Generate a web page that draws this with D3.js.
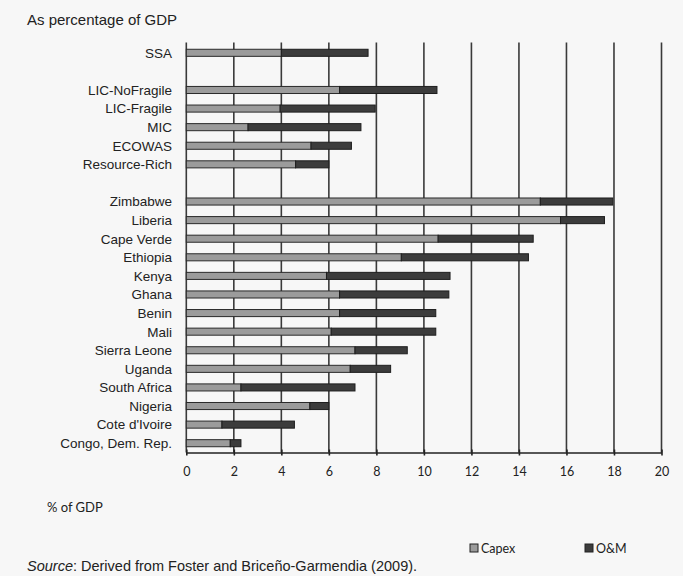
<!DOCTYPE html>
<html>
<head>
<meta charset="utf-8">
<script src="https://cdn.jsdelivr.net/npm/d3@7"></script>
<style>
  html, body { margin: 0; padding: 0; background: #f7f7f7; }
  svg { display: block; }
</style>
</head>
<body>
<script>
// ---- data ----
const categories = ["SSA", "", "LIC-NoFragile", "LIC-Fragile", "MIC", "ECOWAS", "Resource-Rich", "",
  "Zimbabwe", "Liberia", "Cape Verde", "Ethiopia", "Kenya", "Ghana", "Benin", "Mali",
  "Sierra Leone", "Uganda", "South Africa", "Nigeria", "Cote d'Ivoire", "Congo, Dem. Rep."];
const capex = [4.0, null, 6.45, 3.95, 2.6, 5.25, 4.6, null,
  14.9, 15.75, 10.6, 9.05, 5.9, 6.45, 6.45, 6.1, 7.1, 6.9, 2.3, 5.2, 1.5, 1.85];
const om = [3.65, null, 4.1, 4.0, 4.75, 1.7, 1.4, null,
  3.05, 1.85, 4.0, 5.35, 5.2, 4.6, 4.05, 4.4, 2.2, 1.7, 4.8, 0.8, 3.05, 0.45];
const xTicks = [0, 2, 4, 6, 8, 10, 12, 14, 16, 18, 20];
const seriesNames = ["Capex", "O&M"];
const seriesColors = ["#9b9b9b", "#3c3c3c"];
const titleText = "As percentage of GDP";
const axisTitle = "% of GDP";

// ---- layout ----
const W = 683, H = 576;
const svg = d3.select("body").append("svg").attr("width", W).attr("height", H);
svg.append("rect").attr("width", W).attr("height", H).attr("fill", "#f7f7f7");

const x = d3.scaleLinear().domain([0, 20]).range([186.3, 661.5]);
const y = d3.scaleBand().domain(d3.range(categories.length)).range([43.5, 452.5])
  .paddingInner(0.62).paddingOuter(0.31);

const sans = "'Liberation Sans', Arial, sans-serif";
const lato = "Lato, 'Open Sans', sans-serif";

// gridlines
svg.append("g").selectAll("line").data(xTicks).join("line")
  .attr("x1", d => x(d)).attr("x2", d => x(d))
  .attr("y1", 42.5).attr("y2", 452.5)
  .attr("stroke", "#3a3a3a").attr("stroke-width", 1.6);

// bars
const rows = categories.map((c, i) => ({ i, c, capex: capex[i], om: om[i] })).filter(d => d.capex != null);
const g = svg.append("g");
g.selectAll("rect.capex").data(rows).join("rect").attr("class", "capex")
  .attr("x", d => x(0)).attr("y", d => y(d.i))
  .attr("width", d => x(d.capex) - x(0)).attr("height", y.bandwidth())
  .attr("fill", seriesColors[0]).attr("stroke", "#2a2a2a").attr("stroke-width", 1);
g.selectAll("rect.om").data(rows).join("rect").attr("class", "om")
  .attr("x", d => x(d.capex)).attr("y", d => y(d.i))
  .attr("width", d => x(d.capex + d.om) - x(d.capex)).attr("height", y.bandwidth())
  .attr("fill", seriesColors[1]).attr("stroke", "#1e1e1e").attr("stroke-width", 1);

// x axis
const xAxis = d3.axisBottom(x).tickValues(xTicks).tickSize(3).tickSizeOuter(0).tickPadding(12);
const ax = svg.append("g").attr("transform", "translate(0,452.5)").call(xAxis);
ax.select(".domain").attr("stroke", "#222").attr("stroke-width", 1.6);
ax.selectAll(".tick line").attr("stroke", "#222").attr("stroke-width", 1.6).attr("y1", -3);
ax.selectAll(".tick text").attr("font-family", lato).attr("font-size", 12.5).attr("fill", "#222");

// y labels
svg.append("g").selectAll("text").data(rows).join("text")
  .attr("x", 172).attr("y", d => y(d.i) + y.bandwidth() / 2)
  .attr("dy", "0.36em").attr("text-anchor", "end")
  .attr("font-family", sans).attr("font-size", 13.5).attr("fill", "#222")
  .text(d => d.c);

// title
svg.append("text").attr("x", 27).attr("y", 25).attr("font-family", sans)
  .attr("font-size", 15).attr("fill", "#222").text(titleText);

// axis title
svg.append("text").attr("x", 47).attr("y", 512).attr("font-family", lato)
  .attr("font-size", 13).attr("fill", "#222").text(axisTitle);

// legend
const legX = [470, 585];
const leg = svg.append("g").selectAll("g").data(seriesNames).join("g")
  .attr("transform", (d, i) => `translate(${legX[i]},544)`);
leg.append("rect").attr("width", 8).attr("height", 8)
  .attr("fill", (d, i) => seriesColors[i]).attr("stroke", "#222").attr("stroke-width", 1);
leg.append("text").attr("x", 11).attr("y", 9).attr("font-family", lato)
  .attr("font-size", 12.5).attr("fill", "#222").text(d => d);

// source
const src = svg.append("text").attr("x", 27).attr("y", 571).attr("font-family", sans)
  .attr("font-size", 14.5).attr("fill", "#222");
src.append("tspan").attr("font-style", "italic").text("Source");
src.append("tspan").text(": Derived from Foster and Briceño-Garmendia (2009).");
</script>
</body>
</html>
